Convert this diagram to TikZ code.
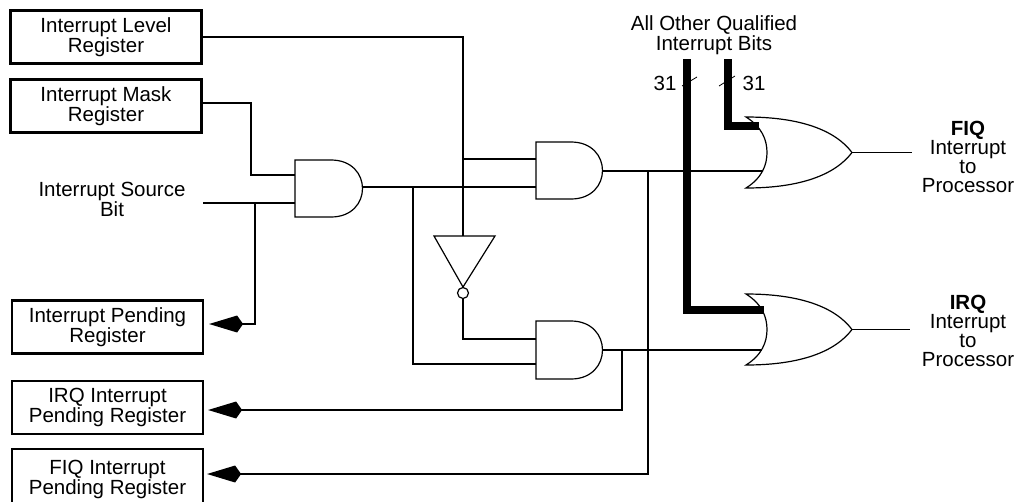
\documentclass[tikz,border=0pt]{standalone}
\usepackage{fontspec}
\setmainfont{Liberation Sans}
\usetikzlibrary{arrows.meta}
\tikzset{
  wire/.style={line width=1.8pt},
  gate/.style={line width=1.2pt},
  bus/.style={line width=8pt, line join=miter},
  regbox/.style={draw, line width=2.2pt, minimum width=191pt, minimum height=53pt, inner sep=0pt, align=center, font=\fontsize{20.5}{20}\selectfont},
  lbl/.style={inner sep=0pt, align=center, font=\fontsize{20.5}{20}\selectfont},
  outlbl/.style={inner sep=0pt, align=center, font=\fontsize{20.5}{19}\selectfont},
  tip/.style={-{Kite[length=34pt,width=17pt,inset=6pt]}},
  tickmark/.style={line width=0.8pt}
}
\begin{document}
\begin{tikzpicture}[x=1pt,y=-1pt]
\useasboundingbox (0,0) rectangle (1018,501);

% registers and labels
\node[regbox] (lvl) at (106,37) {Interrupt Level\\Register};
\node[regbox] (mask) at (106,106) {Interrupt Mask\\Register};
\node[lbl] (src) at (112,199) {Interrupt Source\\Bit};
\node[regbox] (ipr) at (107.5,327) {Interrupt Pending\\Register};
\node[regbox] (irqpr) at (107.5,407.5) {IRQ Interrupt\\Pending Register};
\node[regbox, minimum height=60pt] (fiqpr) at (107.5,479) {FIQ Interrupt\\Pending Register};
\node[lbl] (bits) at (714,35) {All Other Qualified\\Interrupt Bits};
\node[lbl] (n31a) at (665,83) {31};
\node[lbl] (n31b) at (754,83) {31};
\node[outlbl] (fiqout) at (968,157) {\textbf{FIQ}\\Interrupt\\to\\Processor};
\node[outlbl] (irqout) at (968,331) {\textbf{IRQ}\\Interrupt\\to\\Processor};

% AND gates
\draw[gate] (295,160) -- (331,160) .. controls (373,160) and (373,217) .. (331,217) -- (295,217) -- cycle;
\draw[gate] (536,142) -- (571,142) .. controls (613,142) and (613,199) .. (571,199) -- (536,199) -- cycle;
\draw[gate] (536,321) -- (571,321) .. controls (613,321) and (613,379) .. (571,379) -- (536,379) -- cycle;
% OR gates
\draw[gate] (746,117) .. controls (800,117) and (835,130) .. (852,152.5)
  .. controls (835,175) and (800,188) .. (746,188)
  .. controls (762,178) and (767,165) .. (767,152.5)
  .. controls (767,140) and (762,127) .. (746,117) -- cycle;
\draw[gate] (746,294) .. controls (800,294) and (835,307) .. (852,329.5)
  .. controls (835,352) and (800,365) .. (746,365)
  .. controls (762,355) and (767,342) .. (767,329.5)
  .. controls (767,317) and (762,304) .. (746,294) -- cycle;
% inverter
\draw[gate] (434,236) -- (495,236) -- (463,287) -- cycle;
\draw[gate] (463,293) circle[radius=5.5pt];

% pins and junctions
\coordinate (and1a) at (295,175);
\coordinate (and1b) at (295,203);
\coordinate (and1o) at (362,187);
\coordinate (and2a) at (536,159);
\coordinate (and2b) at (536,187);
\coordinate (and2o) at (602,171);
\coordinate (and3a) at (536,339);
\coordinate (and3b) at (536,364);
\coordinate (and3o) at (602,350);
\coordinate (or1a) at (759,126);
\coordinate (or1b) at (763,171);
\coordinate (or1o) at (852,152.5);
\coordinate (or2a) at (764,310);
\coordinate (or2b) at (762,350);
\coordinate (or2o) at (852,329.5);
\coordinate (invtop) at (463,236);
\coordinate (invbot) at (463,298.5);
\coordinate (srcw) at (203,203);
\coordinate (mk) at (251,175);
\coordinate (j1) at (463,159);
\coordinate (j2) at (255,203);
\coordinate (j3) at (413,187);
\coordinate (j4) at (648,171);
\coordinate (j5) at (622,350);
\coordinate (busAtop) at (687,59);
\coordinate (busBtop) at (728,59);
\coordinate (fiqw) at (912,152.5);
\coordinate (irqw) at (910,329.5);

% wires
\draw[wire] (lvl.east) -| (invtop);
\draw[wire] (j1) -- (and2a);
\draw[wire] ([yshift=3pt]mask.east) -| (mk) -- (and1a);
\draw[wire] (srcw) -- (and1b);
\draw[wire,tip] (j2) |- ([xshift=5pt,yshift=3pt]ipr.east);
\draw[wire] (and1o) -- (and2b);
\draw[wire] (j3) |- (and3b);
\draw[wire] (invbot) |- (and3a);
\draw[wire] (and2o) -- (or1b);
\draw[wire,tip] (j4) |- ([xshift=3pt,yshift=5pt]fiqpr.east);
\draw[wire] (and3o) -- (or2b);
\draw[wire,tip] (j5) |- ([xshift=4pt,yshift=-2.5pt]irqpr.east);
\draw[wire] (or1o) -- (fiqw);
\draw[wire] (or2o) -- (irqw);

% buses
\draw[bus] (busAtop) |- (or2a);
\draw[bus] (busBtop) |- (or1a);
\draw[tickmark] (682,86) -- (697,77);
\draw[tickmark] (719,86) -- (735,76);
\end{tikzpicture}
\end{document}
